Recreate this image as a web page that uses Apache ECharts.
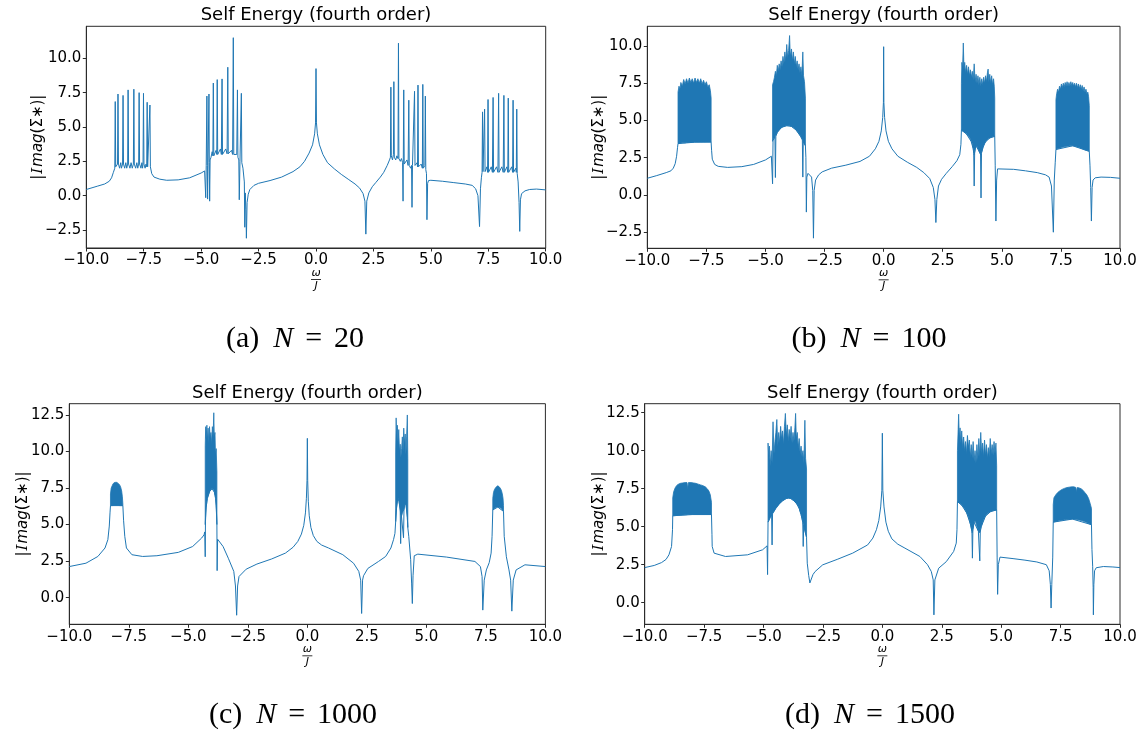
<!DOCTYPE html>
<html>
<head>
<meta charset="utf-8">
<title>Self Energy (fourth order)</title>
<script src="https://cdn.jsdelivr.net/npm/echarts@6/dist/echarts.min.js"></script>
<style>
  html, body {margin: 0; padding: 0; background: #fff;}
  #main {width: 1148px; height: 735px;}
</style>
</head>
<body>
<div id="main"></div>
<script>
// x ticks shared by all panels
var xTicks = [-10, -7.5, -5, -2.5, 0, 2.5, 5, 7.5, 10];
var yTicksA = [-2.5, 0, 2.5, 5, 7.5, 10];
var yTicksB = [-2.5, 0, 2.5, 5, 7.5, 10];
var yTicksC = [0, 2.5, 5, 7.5, 10, 12.5];
var yTicksD = [0, 2.5, 5, 7.5, 10, 12.5];
var captions = ['(a)|20', '(b)|100', '(c)|1000', '(d)|1500'];

// (a) N = 20 : [omega/J, |Imag(Sigma*)|]
var curveA = [
  [-10,0.45],[-9.5,0.7],[-9.2,0.85],[-9.0,1.05],[-8.9,1.3],[-8.82,1.7],[-8.76,2.0],
  [-8.74,6.85],[-8.72,2.1],[-8.67,2.0],[-8.64,2.3],[-8.62,7.4],[-8.60,2.3],[-8.55,2.0],[-8.5,2.4],[-8.47,2.0],
  [-8.42,2.3],[-8.40,7.3],[-8.38,2.3],[-8.33,2.0],[-8.28,2.4],[-8.24,2.0],[-8.20,2.3],[-8.18,7.7],[-8.16,2.3],
  [-8.10,2.0],[-8.05,2.4],[-8.0,2.0],[-7.95,2.3],[-7.93,7.75],[-7.91,2.3],[-7.85,2.0],[-7.80,2.4],[-7.76,2.0],
  [-7.72,2.3],[-7.70,7.5],[-7.68,2.3],[-7.62,2.0],[-7.58,2.4],[-7.55,2.0],[-7.53,2.3],[-7.51,7.45],[-7.49,2.3],
  [-7.44,2.0],[-7.40,2.3],[-7.37,2.1],[-7.35,6.8],[-7.33,2.1],[-7.28,2.0],[-7.25,2.2],[-7.23,6.6],[-7.21,2.1],
  [-7.15,1.6],[-7.05,1.35],[-6.8,1.2],[-6.5,1.12],[-6.0,1.15],[-5.5,1.3],[-5.0,1.65],[-4.85,1.8],
  [-4.82,1.85],[-4.80,-0.15],[-4.78,2.2],[-4.75,7.25],[-4.73,2.2],[-4.72,-0.25],[-4.70,2.4],[-4.66,7.4],
  [-4.645,2.4],[-4.63,-0.4],[-4.61,2.6],[-4.57,2.8],[-4.52,3.2],[-4.49,2.9],[-4.47,8.2],[-4.45,2.9],[-4.40,3.0],
  [-4.35,3.3],[-4.32,3.0],[-4.30,8.45],[-4.28,3.0],[-4.22,3.0],[-4.16,3.4],[-4.12,3.0],[-4.09,8.5],[-4.07,3.0],
  [-4.00,3.05],[-3.93,3.4],[-3.87,3.05],[-3.84,9.35],[-3.82,3.05],[-3.75,3.0],[-3.68,3.3],[-3.63,3.0],[-3.60,11.5],
  [-3.58,3.0],[-3.50,2.9],[-3.45,3.0],[-3.42,7.7],[-3.40,2.8],[-3.36,2.6],[-3.34,-0.3],[-3.31,2.5],[-3.27,2.5],
  [-3.25,7.45],[-3.23,2.4],[-3.18,2.0],[-3.12,1.0],[-3.10,-2.3],[-3.08,0.2],[-3.05,-1.0],[-3.03,-3.1],[-3.0,-0.5],
  [-2.95,0.1],[-2.88,0.45],[-2.7,0.75],[-2.5,0.9],[-2.0,1.1],[-1.5,1.35],[-1.0,1.75],[-0.7,2.1],[-0.5,2.5],
  [-0.3,3.1],[-0.15,3.7],[-0.06,4.5],[-0.02,5.3],[0,9.25],[0.02,5.3],[0.06,4.5],[0.15,3.7],[0.3,3.0],[0.5,2.4],
  [0.8,1.95],[1.1,1.55],[1.4,1.2],[1.7,0.85],[1.9,0.55],[2.05,0.15],[2.13,-0.4],[2.17,-2.8],[2.21,-0.4],[2.3,0.2],
  [2.45,0.65],[2.6,0.95],[2.8,1.35],[2.95,1.7],[3.1,2.2],[3.2,2.6],
  [3.24,2.8],[3.26,7.9],[3.28,2.9],[3.33,2.6],[3.37,3.0],[3.39,8.3],[3.41,2.8],[3.47,2.6],[3.52,2.9],[3.57,2.7],
  [3.59,11.1],[3.61,2.7],[3.67,2.5],[3.72,2.7],[3.77,2.4],[3.79,-0.4],[3.80,2.3],[3.82,7.7],[3.84,2.3],[3.90,2.3],
  [3.96,2.6],[4.01,2.2],[4.04,6.95],[4.06,2.2],[4.12,2.0],[4.16,2.2],[4.18,-0.85],[4.20,2.2],[4.25,2.3],[4.29,7.6],
  [4.31,2.2],[4.36,2.1],[4.40,2.4],[4.42,2.1],[4.44,8.05],[4.46,2.1],[4.52,2.0],[4.58,2.3],[4.63,2.0],[4.65,8.1],
  [4.67,2.0],[4.72,1.9],[4.74,2.2],[4.76,7.25],[4.78,1.9],[4.81,1.6],[4.83,-1.75],[4.86,0.9],[4.9,1.1],[5.0,1.12],
  [5.5,1.05],[6.0,0.95],[6.5,0.85],[6.8,0.75],[6.95,0.5],[7.05,0.0],[7.12,-2.25],[7.16,0.5],[7.2,1.3],[7.23,1.7],
  [7.25,6.1],[7.27,1.75],[7.31,1.7],[7.34,6.3],[7.36,1.75],[7.40,1.7],[7.44,2.1],[7.47,1.7],[7.49,7.0],[7.51,1.7],
  [7.57,1.7],[7.63,2.1],[7.68,1.7],[7.71,7.15],[7.73,1.7],[7.80,1.7],[7.86,2.1],[7.92,1.7],[7.95,7.45],[7.97,1.7],
  [8.03,1.7],[8.09,2.1],[8.15,1.7],[8.18,7.3],[8.20,1.7],[8.26,1.7],[8.31,2.1],[8.35,1.7],[8.37,7.1],[8.39,1.7],
  [8.46,1.7],[8.52,2.1],[8.56,1.7],[8.58,6.95],[8.60,1.7],[8.66,1.7],[8.70,2.0],[8.72,1.7],[8.74,6.3],[8.76,1.6],
  [8.80,1.0],[8.84,-0.5],[8.87,-2.6],[8.9,-0.3],[8.95,0.15],[9.1,0.35],[9.3,0.45],[9.6,0.48],[10,0.42]
];

// (b) N = 100
var curveB = [
  [-10,1.12],[-9.6,1.3],[-9.2,1.5],[-9.0,1.62],[-8.9,1.8],[-8.82,2.1],[-8.76,2.6],[-8.72,3.2],[-8.70,3.45],
  [-8.0,3.54],[-7.30,3.55],[-7.28,3.0],[-7.25,2.4],[-7.15,2.05],[-7.0,1.92],[-6.6,1.85],[-6.0,1.9],[-5.5,2.05],
  [-5.0,2.35],[-4.75,2.6],[-4.72,2.65],[-4.70,0.75],[-4.68,3.65],[-4.6,3.9],[-4.58,1.17],[-4.56,3.95],[-4.5,4.2],
  [-4.4,4.4],[-4.3,4.55],[-4.1,4.65],[-3.9,4.6],[-3.7,4.35],[-3.5,3.9],[-3.44,3.7],[-3.42,1.2],[-3.40,3.6],
  [-3.31,3.3],[-3.29,2.5],[-3.27,-1.15],[-3.25,1.2],[-3.2,1.45],[-3.12,1.55],[-3.05,1.2],[-3.0,0.3],[-2.97,-2.9],
  [-2.94,0.3],[-2.88,1.0],[-2.75,1.35],[-2.6,1.55],[-2.2,1.8],[-1.6,2.0],[-1.0,2.25],[-0.6,2.6],[-0.35,3.1],
  [-0.2,3.6],[-0.1,4.3],[-0.04,5.2],[-0.01,6.2],[0,9.95],[0.01,6.2],[0.04,5.2],[0.1,4.3],[0.2,3.6],[0.35,3.1],
  [0.6,2.6],[1.0,2.2],[1.4,1.85],[1.7,1.5],[1.95,1.1],[2.1,0.5],[2.17,-0.3],[2.21,-1.85],[2.25,-0.3],[2.32,0.6],
  [2.45,1.05],[2.65,1.45],[2.9,1.9],[3.1,2.3],[3.22,2.7],[3.27,3.4],[3.29,4.35],[3.5,4.1],[3.7,3.6],[3.79,3.1],
  [3.81,2.8],[3.83,0.6],[3.85,2.8],[3.9,3.3],[4.0,3.05],[4.10,2.75],[4.12,-0.2],[4.14,2.8],[4.2,3.2],[4.3,3.55],
  [4.5,3.84],[4.70,3.93],[4.72,2.0],[4.75,-1.75],[4.78,1.0],[4.82,1.75],[4.9,1.8],[5.5,1.72],[6.0,1.62],[6.5,1.5],
  [6.85,1.35],[7.0,1.2],[7.1,0.6],[7.18,-2.5],[7.22,1.0],[7.26,2.2],[7.29,3.05],[8.0,3.3],[8.70,2.93],[8.73,2.0],
  [8.76,0.5],[8.79,-1.75],[8.82,0.5],[8.86,1.0],[8.95,1.15],[9.2,1.2],[9.6,1.18],[10,1.12]
];
// dense bands: [omega/J, lower edge, upper edge]
var bandB1 = [
  [-8.70,3.45,6.9],[-8.66,3.45,7.3],[-8.62,3.47,7.1],[-8.58,3.48,7.55],[-8.52,3.5,7.3],[-8.46,3.5,7.75],
  [-8.40,3.5,7.45],[-8.34,3.52,7.8],[-8.28,3.52,7.5],[-8.22,3.53,7.85],[-8.16,3.53,7.55],[-8.10,3.54,7.8],
  [-8.04,3.54,7.5],[-7.98,3.55,7.85],[-7.92,3.55,7.55],[-7.86,3.55,7.8],[-7.80,3.55,7.5],[-7.74,3.55,7.8],
  [-7.68,3.55,7.45],[-7.62,3.55,7.7],[-7.56,3.55,7.4],[-7.50,3.55,7.6],[-7.44,3.55,7.25],[-7.38,3.55,7.4],
  [-7.33,3.55,7.0],[-7.30,3.55,6.5]
];
var bandB2 = [
  [-4.70,3.6,7.4],[-4.66,3.75,7.6],[-4.62,3.85,7.9],[-4.58,3.95,8.3],[-4.54,4.05,8.0],[-4.50,4.2,8.7],
  [-4.46,4.28,8.3],[-4.42,4.36,8.8],[-4.38,4.42,8.4],[-4.34,4.48,9.0],[-4.30,4.55,8.6],[-4.26,4.58,9.3],
  [-4.22,4.6,8.8],[-4.18,4.62,9.6],[-4.14,4.64,9.0],[-4.10,4.65,10.1],[-4.06,4.65,9.2],[-4.02,4.65,9.7],
  [-3.98,4.65,10.7],[-3.95,4.63,9.3],[-3.90,4.6,9.8],[-3.86,4.56,9.0],[-3.82,4.52,9.6],[-3.78,4.47,8.8],
  [-3.74,4.41,9.3],[-3.70,4.35,8.6],[-3.66,4.27,9.0],[-3.62,4.19,8.4],[-3.58,4.1,8.8],[-3.54,4.0,8.2],
  [-3.50,3.9,8.6],[-3.46,3.78,8.0],[-3.42,3.65,9.6],[-3.39,3.55,8.0],[-3.35,3.42,7.6],[-3.31,3.3,6.5]
];
var bandB3 = [
  [3.29,4.35,7.5],[3.31,4.33,8.9],[3.34,4.3,8.5],[3.37,4.28,10.2],[3.40,4.25,8.4],[3.43,4.2,8.9],[3.47,4.15,8.2],
  [3.51,4.1,8.7],[3.55,4.0,8.1],[3.59,3.95,8.6],[3.63,3.85,8.0],[3.67,3.75,8.4],[3.71,3.6,7.9],[3.75,3.45,8.3],
  [3.79,3.1,7.7],[3.83,2.7,8.8],[3.87,3.1,7.6],[3.91,3.3,8.1],[3.95,3.25,7.5],[3.99,3.1,8.0],[4.03,2.95,7.4],
  [4.07,2.8,7.9],[4.11,2.7,7.3],[4.15,2.9,7.8],[4.19,3.1,7.4],[4.23,3.3,7.9],[4.27,3.45,7.5],[4.31,3.55,8.0],
  [4.35,3.65,7.6],[4.39,3.7,8.2],[4.42,3.75,8.45],[4.45,3.8,7.6],[4.49,3.82,8.1],[4.53,3.85,7.5],[4.57,3.88,8.0],
  [4.61,3.9,7.4],[4.65,3.92,7.8],[4.68,3.93,7.3],[4.70,3.93,6.5]
];
var bandB4 = [
  [7.29,3.05,6.4],[7.32,3.07,6.8],[7.36,3.1,7.1],[7.40,3.12,6.9],[7.44,3.14,7.3],[7.48,3.16,7.1],[7.52,3.18,7.45],
  [7.56,3.2,7.2],[7.60,3.22,7.5],[7.64,3.24,7.25],[7.68,3.25,7.55],[7.72,3.26,7.3],[7.76,3.27,7.6],[7.80,3.28,7.3],
  [7.84,3.29,7.55],[7.88,3.3,7.3],[7.92,3.3,7.6],[7.96,3.3,7.35],[8.00,3.3,7.55],[8.04,3.29,7.3],[8.08,3.28,7.5],
  [8.12,3.26,7.25],[8.16,3.24,7.5],[8.20,3.22,7.2],[8.24,3.2,7.45],[8.28,3.18,7.15],[8.32,3.15,7.4],[8.36,3.12,7.1],
  [8.40,3.1,7.35],[8.44,3.07,7.0],[8.48,3.05,7.25],[8.52,3.02,6.9],[8.56,3.0,7.1],[8.60,2.98,6.8],[8.64,2.96,6.9],
  [8.67,2.95,6.6],[8.70,2.93,6.0]
];

// (c) N = 1000
var curveC = [
  [-10,2.13],[-9.3,2.36],[-8.8,2.82],[-8.5,3.4],[-8.38,3.97],[-8.32,4.9],[-8.29,5.8],[-8.27,6.3],[-7.75,6.3],
  [-7.72,5.3],[-7.67,4.2],[-7.6,3.4],[-7.37,2.94],[-6.92,2.82],[-6.32,2.87],[-5.42,3.1],[-4.82,3.5],[-4.44,4.08],
  [-4.34,4.3],[-4.31,4.5],[-4.29,2.8],[-4.28,5.2],[-4.25,6.2],[-4.2,6.8],[-4.1,7.3],[-4.0,7.45],[-3.9,7.2],
  [-3.85,6.8],[-3.82,6.0],[-3.80,5.0],[-3.79,1.85],[-3.77,4.0],[-3.54,3.5],[-3.32,2.7],[-3.09,1.8],[-3.02,0.8],
  [-2.97,-1.2],[-2.93,0.8],[-2.87,1.45],[-2.57,1.95],[-2.12,2.3],[-1.5,2.65],[-0.92,3.05],[-0.6,3.45],[-0.4,3.85],
  [-0.25,4.35],[-0.15,4.95],[-0.08,5.8],[-0.04,6.8],[-0.015,8.0],[0,10.9],[0.015,8.0],[0.04,6.6],[0.08,5.6],
  [0.15,4.8],[0.25,4.25],[0.4,3.85],[0.6,3.6],[0.89,3.4],[1.49,2.94],
  [1.94,2.36],[2.16,1.8],[2.24,1.2],[2.28,-1.08],[2.32,1.2],[2.36,1.5],[2.54,2.0],[2.99,2.48],[3.29,2.82],
  [3.51,3.4],[3.62,3.97],[3.68,4.4],[3.71,5.2],[3.75,6.2],[3.8,6.8],[3.85,6.6],[3.9,6.0],[3.92,3.7],[3.94,5.8],
  [4.0,5.8],[4.04,4.1],[4.06,6.0],[4.1,6.5],[4.15,6.3],[4.2,5.5],[4.22,4.8],[4.26,4.2],[4.34,2.6],[4.38,1.0],
  [4.41,-0.4],[4.44,1.5],[4.49,2.87],[4.64,2.98],[5.84,2.78],[7.04,2.48],[7.27,2.13],[7.34,1.44],[7.37,-0.85],
  [7.43,1.2],[7.52,1.9],[7.64,2.4],[7.72,3.05],[7.76,4.2],[7.79,6.0],[8.0,6.2],[8.24,5.9],[8.27,4.2],[8.36,2.8],
  [8.47,1.9],[8.54,1.2],[8.59,-0.92],[8.65,1.2],[8.77,1.9],[9.14,2.25],[10,2.13]
];
var bandC1 = [
  [-8.27,6.3,7.1],[-8.24,6.3,7.5],[-8.2,6.3,7.65],[-8.16,6.31,7.8],[-8.12,6.32,7.85],[-8.08,6.32,7.9],
  [-8.04,6.32,7.88],[-8.0,6.32,7.9],[-7.96,6.32,7.82],[-7.92,6.31,7.78],[-7.88,6.3,7.7],[-7.84,6.3,7.55],
  [-7.8,6.3,7.3],[-7.77,6.3,6.9],[-7.75,6.3,6.4]
];
var bandC2 = [
  [-4.29,5.0,10.4],[-4.27,5.8,11.7],[-4.25,6.2,10.9],[-4.22,6.6,11.8],[-4.2,6.8,10.8],[-4.17,6.95,11.6],
  [-4.14,7.1,10.6],[-4.11,7.25,11.7],[-4.08,7.3,10.9],[-4.05,7.4,11.3],[-4.02,7.45,10.5],[-3.99,7.45,11.7],
  [-3.96,7.42,11.0],[-3.93,7.35,12.65],[-3.91,7.25,11.0],[-3.88,7.0,11.3],[-3.86,6.8,9.8],[-3.83,6.3,10.2],
  [-3.80,5.0,8.6]
];
var bandC3 = [
  [3.71,5.2,9.9],[3.73,5.8,12.3],[3.75,6.2,11.0],[3.78,6.6,11.8],[3.81,6.8,10.6],[3.84,6.7,11.5],[3.87,6.4,10.0],
  [3.9,6.0,10.5],[3.93,5.7,9.6],[3.96,5.6,10.2],[3.99,5.75,11.0],[4.02,5.9,10.0],[4.05,6.0,11.6],[4.08,6.3,10.5],
  [4.11,6.5,11.2],[4.14,6.35,9.8],[4.17,6.0,11.0],[4.2,5.5,12.5],[4.22,4.8,9.5]
];
var bandC4 = [
  [7.79,6.0,6.8],[7.82,6.05,7.2],[7.86,6.1,7.4],[7.9,6.15,7.5],[7.95,6.2,7.6],[8.0,6.2,7.65],[8.05,6.2,7.6],
  [8.1,6.15,7.5],[8.15,6.1,7.35],[8.19,6.0,7.1],[8.22,5.95,6.8],[8.24,5.9,6.3]
];

// (d) N = 1500
var curveD = [
  [-10,2.31],[-9.6,2.45],[-9.29,2.64],[-9.1,2.85],[-8.98,3.15],[-8.87,3.7],[-8.83,4.8],[-8.82,5.72],[-8.0,5.8],
  [-7.19,5.8],[-7.17,4.5],[-7.16,3.7],[-7.08,3.26],[-6.6,3.04],[-5.67,3.15],[-5.04,3.48],[-4.85,3.74],[-4.83,1.85],
  [-4.81,5.3],[-4.72,5.6],[-4.66,5.8],[-4.64,3.8],[-4.62,5.85],[-4.5,6.2],[-4.35,6.5],[-4.2,6.7],[-4.05,6.85],
  [-3.95,6.88],[-3.85,6.85],[-3.72,6.7],[-3.6,6.5],[-3.5,6.2],[-3.42,5.8],[-3.35,5.3],[-3.33,3.7],[-3.31,5.1],
  [-3.27,4.8],[-3.19,4.3],[-3.16,2.6],[-3.1,1.8],[-3.05,1.3],[-3.03,1.2],[-3.0,1.35],[-2.92,1.85],[-2.83,2.05],
  [-2.51,2.49],[-1.9,2.85],[-1.25,3.26],[-0.62,3.8],[-0.4,4.25],[-0.25,4.8],[-0.15,5.4],[-0.07,6.3],[-0.02,7.4],
  [0,11.15],[0.02,7.4],[0.07,6.3],[0.15,5.3],[0.25,4.7],[0.4,4.2],[0.65,3.85],[0.95,3.59],[1.58,3.04],[1.9,2.5],
  [2.06,2.05],[2.14,1.5],
  [2.17,-0.8],[2.21,1.5],[2.37,2.27],[2.69,2.7],[3.0,3.37],[3.11,3.92],[3.14,4.8],[3.16,6.65],[3.35,6.4],
  [3.55,5.9],[3.72,5.1],[3.77,4.7],[3.79,2.93],[3.81,4.8],[3.86,5.3],[3.92,5.3],[4.04,4.7],[4.08,4.6],[4.1,2.75],
  [4.12,4.65],[4.16,5.0],[4.34,5.7],[4.56,6.0],[4.81,6.1],[4.83,3.0],[4.85,0.55],[4.88,2.5],[4.95,3.0],[5.5,2.9],
  [6.0,2.8],[6.5,2.68],[6.9,2.5],[7.02,2.1],[7.07,1.2],[7.1,-0.35],[7.13,1.2],[7.17,3.0],[7.19,5.3],[8.0,5.5],
  [8.8,5.13],[8.82,3.5],[8.85,2.4],[8.87,1.0],[8.88,-0.8],[8.9,1.2],[8.93,2.1],[9.0,2.3],[9.3,2.38],[9.7,2.35],
  [10,2.31]
];
var bandD1 = [
  [-8.82,5.72,6.9],[-8.78,5.72,7.3],[-8.72,5.73,7.55],[-8.66,5.74,7.7],[-8.6,5.75,7.78],[-8.5,5.76,7.85],
  [-8.4,5.77,7.88],[-8.3,5.78,7.9],[-8.22,5.79,7.9],[-8.19,5.8,7.5],[-8.16,5.8,7.9],[-8.05,5.8,7.9],
  [-7.95,5.8,7.88],[-7.85,5.8,7.85],[-7.75,5.8,7.8],[-7.65,5.8,7.75],[-7.55,5.8,7.7],[-7.45,5.8,7.62],
  [-7.37,5.8,7.5],[-7.3,5.8,7.35],[-7.24,5.8,7.1],[-7.19,5.8,6.6]
];
var bandD2 = [
  [-4.81,5.3,10.5],[-4.78,5.4,9.6],[-4.75,5.5,10.3],[-4.72,5.6,9.0],[-4.68,5.7,10.0],[-4.64,5.82,9.2],
  [-4.6,5.92,11.9],[-4.56,6.0,9.8],[-4.52,6.1,10.6],[-4.48,6.2,11.2],[-4.44,6.28,12.05],[-4.4,6.36,10.3],
  [-4.36,6.44,11.2],[-4.32,6.52,10.5],[-4.28,6.58,11.6],[-4.24,6.64,10.8],[-4.2,6.7,11.3],[-4.16,6.74,10.4],
  [-4.12,6.78,11.6],[-4.08,6.82,12.45],[-4.04,6.85,11.0],[-4.0,6.87,11.7],[-3.96,6.88,10.6],[-3.92,6.88,11.4],
  [-3.88,6.87,10.8],[-3.84,6.84,11.6],[-3.8,6.8,10.5],[-3.76,6.75,11.2],[-3.72,6.7,10.6],[-3.68,6.63,11.5],
  [-3.65,6.58,12.45],[-3.62,6.53,10.8],[-3.58,6.45,11.2],[-3.54,6.35,10.2],[-3.5,6.2,10.8],[-3.46,6.0,9.8],
  [-3.42,5.8,10.3],[-3.38,5.55,9.6],[-3.34,5.25,10.0],[-3.3,5.0,9.2],[-3.26,4.75,12.0],[-3.23,4.55,9.5],
  [-3.19,4.3,8.8]
];
var bandD3 = [
  [3.16,6.65,10.0],[3.19,6.62,11.4],[3.21,6.6,12.4],[3.24,6.56,10.8],[3.27,6.52,11.5],[3.3,6.48,10.5],
  [3.34,6.42,11.3],[3.38,6.35,10.2],[3.42,6.27,10.9],[3.46,6.18,10.0],[3.5,6.06,10.6],[3.54,5.94,9.8],
  [3.58,5.8,11.0],[3.62,5.65,10.2],[3.66,5.45,10.7],[3.7,5.2,9.6],[3.74,4.9,10.4],[3.78,4.6,9.5],[3.82,4.9,10.6],
  [3.86,5.3,9.3],[3.9,5.35,10.0],[3.94,5.25,9.2],[3.98,5.0,10.4],[4.02,4.8,9.4],[4.06,4.65,10.8],[4.1,4.6,9.6],
  [4.14,4.9,11.2],[4.18,5.1,9.8],[4.22,5.3,10.5],[4.26,5.45,9.6],[4.3,5.6,10.7],[4.34,5.7,9.7],[4.38,5.78,10.4],
  [4.42,5.85,9.5],[4.46,5.9,10.2],[4.5,5.95,9.6],[4.54,5.98,10.8],[4.58,6.0,9.8],[4.62,6.03,10.4],[4.66,6.05,9.7],
  [4.7,6.07,10.6],[4.74,6.08,9.8],[4.78,6.1,10.5],[4.81,6.1,9.0]
];
var bandD4 = [
  [7.19,5.3,6.45],[7.22,5.31,6.9],[7.3,5.34,7.1],[7.38,5.37,7.25],[7.46,5.4,7.35],[7.56,5.43,7.45],
  [7.66,5.46,7.52],[7.76,5.48,7.57],[7.86,5.49,7.6],[7.96,5.5,7.62],[8.06,5.5,7.62],[8.14,5.48,7.58],
  [8.17,5.47,7.3],[8.2,5.46,7.58],[8.28,5.44,7.55],[8.36,5.41,7.5],[8.44,5.37,7.4],[8.52,5.32,7.25],
  [8.6,5.27,7.1],[8.68,5.21,6.85],[8.74,5.17,6.55],[8.8,5.13,6.2]
];

var BLUE = '#1f77b4';
var FRAME = '#2b2b2b';

// plot rectangles, in pixels
var panels = [
  {left: 86.3, top: 26.3, width: 459.4, height: 221.7, ymin: -3.81, ymax: 12.33, yTicks: yTicksA, labelX: 38, capX: 295, capY: 339},
  {left: 647.3, top: 26.3, width: 472.7, height: 222.0, ymin: -3.58, ymax: 11.32, yTicks: yTicksB, labelX: 599, capX: 869, capY: 339},
  {left: 69.3, top: 403.7, width: 476.1, height: 220.6, ymin: -1.82, ymax: 13.27, yTicks: yTicksC, labelX: 23, capX: 293, capY: 715},
  {left: 644.7, top: 403.7, width: 475.3, height: 220.6, ymin: -1.42, ymax: 13.09, yTicks: yTicksD, labelX: 599, capX: 870, capY: 715}
];
var curves = [curveA, curveB, curveC, curveD];
var bands = [[], [bandB1, bandB2, bandB3, bandB4], [bandC1, bandC2, bandC3, bandC4], [bandD1, bandD2, bandD3, bandD4]];

function tickFmt(v) {
  var s = Math.abs(v).toFixed(1);
  return v < -1e-9 ? '\u2212' + s : s;
}

var chart = echarts.init(document.getElementById('main'), null, {renderer: 'canvas'});

var grids = [], xAxes = [], yAxes = [], series = [], graphics = [];

panels.forEach(function (p, i) {
  grids.push({
    left: p.left, top: p.top, width: p.width, height: p.height,
    show: true, borderColor: FRAME, borderWidth: 1, containLabel: false, outerBoundsMode: 'none'
  });
  xAxes.push({
    gridIndex: i, type: 'value', min: -10, max: 10, interval: 2.5,
    axisLine: {show: true, onZero: false, lineStyle: {color: FRAME, width: 1}},
    axisTick: {show: true, length: 3.5, lineStyle: {color: FRAME}},
    axisLabel: {fontSize: 15, fontFamily: 'DejaVu Sans', color: '#000', margin: 5, formatter: tickFmt},
    splitLine: {show: false}
  });
  yAxes.push({
    gridIndex: i, type: 'value', min: p.ymin, max: p.ymax,
    axisLine: {show: true, onZero: false, lineStyle: {color: FRAME, width: 1}},
    axisTick: {show: true, length: 3.5, lineStyle: {color: FRAME}, customValues: p.yTicks},
    axisLabel: {fontSize: 15, fontFamily: 'DejaVu Sans', color: '#000', margin: 5, formatter: tickFmt, customValues: p.yTicks},
    splitLine: {show: false}
  });

  series.push({
    type: 'line', xAxisIndex: i, yAxisIndex: i, data: curves[i],
    showSymbol: false, symbol: 'none', color: BLUE,
    lineStyle: {color: BLUE, width: 1}, animation: false, z: 3
  });

  bands[i].forEach(function (band) {
    series.push({
      type: 'custom', xAxisIndex: i, yAxisIndex: i, data: band, silent: true, animation: false, z: 2,
      encode: {x: 0, y: [1, 2]},
      renderItem: function (params, api) {
        if (params.dataIndex !== 0) return null;
        var pts = [];
        for (var k = 0; k < band.length; k++) pts.push(api.coord([band[k][0], band[k][2]]));
        for (var k2 = band.length - 1; k2 >= 0; k2--) pts.push(api.coord([band[k2][0], band[k2][1]]));
        return {type: 'polygon', shape: {points: pts}, style: {fill: BLUE, stroke: BLUE, lineWidth: 0.8}};
      }
    });
  });

  var cx = p.left + p.width / 2;
  var bottom = p.top + p.height;

  // title
  graphics.push({
    type: 'text', x: cx, y: p.top - 10.5, silent: true,
    style: {text: 'Self Energy (fourth order)', fontSize: 18, fontFamily: 'DejaVu Sans', fill: '#000', align: 'center', verticalAlign: 'middle'}
  });
  // y label
  graphics.push({
    type: 'text', x: p.labelX, y: p.top + p.height / 2, rotation: Math.PI / 2, silent: true,
    style: {
      text: '{n||}{c|I}{i|mag}{n|(\u03A3\u2217)|}', align: 'center', verticalAlign: 'middle', fill: '#000',
      rich: {
        n: {fontSize: 15, fontFamily: 'DejaVu Sans', fill: '#000'},
        c: {fontSize: 15, fontFamily: 'DejaVu Serif', fontStyle: 'italic', fill: '#000', padding: [0, 1, 0, 1]},
        i: {fontSize: 15, fontFamily: 'DejaVu Sans', fontStyle: 'italic', fill: '#000'}
      }
    }
  });
  // x label: omega over J
  graphics.push({
    type: 'text', x: cx, y: bottom + 25, silent: true,
    style: {text: '\u03C9', fontSize: 11, fontFamily: 'DejaVu Sans', fontStyle: 'italic', fill: '#000', align: 'center', verticalAlign: 'middle'}
  });
  graphics.push({
    type: 'line', silent: true,
    shape: {x1: cx - 5, y1: bottom + 31.5, x2: cx + 5, y2: bottom + 31.5},
    style: {stroke: '#000', lineWidth: 0.8}
  });
  graphics.push({
    type: 'text', x: cx, y: bottom + 38, silent: true,
    style: {text: 'J', fontSize: 11, fontFamily: 'DejaVu Sans', fontStyle: 'italic', fill: '#000', align: 'center', verticalAlign: 'middle'}
  });
  // caption
  var cap = captions[i].split('|');
  graphics.push({
    type: 'text', x: p.capX, y: p.capY, silent: true,
    style: {
      text: '{t|' + cap[0] + '}{i|N}{e|=}{t|' + cap[1] + '}', align: 'center', verticalAlign: 'middle', fill: '#000',
      rich: {
        t: {fontSize: 30, fontFamily: 'Liberation Serif', fill: '#000'},
        i: {fontSize: 30, fontFamily: 'Liberation Serif', fontStyle: 'italic', fill: '#000', padding: [0, 12, 0, 14]},
        e: {fontSize: 30, fontFamily: 'Liberation Serif', fill: '#000', padding: [0, 12, 0, 0]}
      }
    }
  });
});

chart.setOption({
  backgroundColor: '#ffffff',
  animation: false,
  grid: grids,
  xAxis: xAxes,
  yAxis: yAxes,
  series: series,
  graphic: {elements: graphics}
});
window.onresize = chart.resize;
</script>
</body>
</html>
